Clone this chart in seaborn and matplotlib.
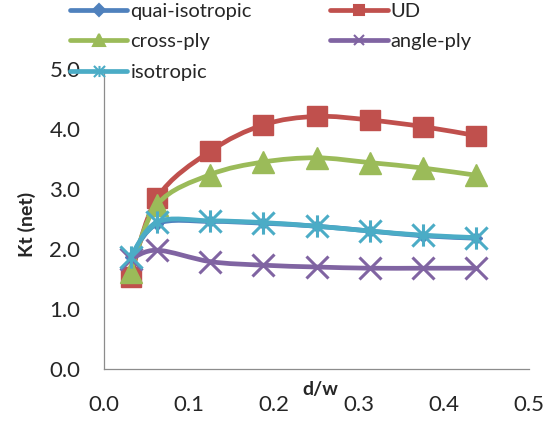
import numpy as np
import matplotlib
matplotlib.use("Agg")
import matplotlib.pyplot as plt
from matplotlib.path import Path
from matplotlib.patches import PathPatch
from matplotlib.lines import Line2D
import seaborn as sns

# d/w ratios and net stress concentration factors
d_w = [0.03125, 0.0625, 0.125, 0.1875, 0.25, 0.3125, 0.375, 0.4375]
kt_quasi = [1.86, 2.42, 2.46, 2.43, 2.38, 2.30, 2.22, 2.18]
kt_ud = [1.53, 2.85, 3.63, 4.07, 4.21, 4.15, 4.04, 3.89]
kt_cross = [1.62, 2.74, 3.24, 3.45, 3.52, 3.44, 3.35, 3.23]
kt_angle = [1.83, 1.98, 1.79, 1.73, 1.70, 1.68, 1.68, 1.68]
kt_iso = [1.86, 2.45, 2.47, 2.44, 2.38, 2.30, 2.23, 2.19]

labels = ["quai-isotropic", "UD", "cross-ply", "angle-ply", "isotropic"]
x_ticks = [0.0, 0.1, 0.2, 0.3, 0.4, 0.5]
y_ticks = [0.0, 1.0, 2.0, 3.0, 4.0, 5.0]

sns.set_theme(style="white")
plt.rcParams["font.family"] = ["Lato", "DejaVu Sans"]

colors = ["#4F81BD", "#C0504D", "#9BBB59", "#8064A2", "#4BACC6"]

# asterisk marker: an x with a vertical stroke through it
star = Path([(-1, -1), (1, 1), (-1, 1), (1, -1), (0, -1), (0, 1)],
            [Path.MOVETO, Path.LINETO, Path.MOVETO, Path.LINETO,
             Path.MOVETO, Path.LINETO])

styles = [
    dict(marker="D", ms=6, mew=1),
    dict(marker="s", ms=14, mew=1),
    dict(marker="^", ms=16, mew=1),
    dict(marker="x", ms=16, mew=2.2),
    dict(marker=star, ms=16, mew=2.2),
]
legend_ms = [6, 7, 8, 7, 8]

series = [kt_quasi, kt_ud, kt_cross, kt_angle, kt_iso]


def smooth_path(xs, ys):
    """Cubic Bezier path through the points (Catmull-Rom tangents)."""
    pts = np.column_stack([xs, ys]).astype(float)
    n = len(pts)
    verts = [pts[0]]
    codes = [Path.MOVETO]
    for i in range(n - 1):
        p0 = pts[i - 1] if i > 0 else pts[i]
        p1 = pts[i]
        p2 = pts[i + 1]
        p3 = pts[i + 2] if i + 2 < n else pts[i + 1]
        c1 = p1 + (p2 - p0) / 6.0
        c2 = p2 - (p3 - p1) / 6.0
        verts += [c1, c2, p2]
        codes += [Path.CURVE4] * 3
    return Path(verts, codes)


fig = plt.figure(figsize=(5.57, 4.21), dpi=100)
ax = fig.add_axes([104 / 557, 1 - 369 / 421, 425 / 557, 300 / 421])

handles = []
for k, (vals, col, st) in enumerate(zip(series, colors, styles)):
    z = 3 + 2 * k
    ax.add_patch(PathPatch(smooth_path(d_w, vals), fill=False, edgecolor=col,
                           lw=3.4, capstyle="round", joinstyle="round", zorder=z))
    sns.lineplot(x=d_w, y=vals, ax=ax, sort=False, linestyle="none",
                 color=col, marker=st["marker"], markersize=st["ms"],
                 markeredgewidth=st["mew"], markeredgecolor=col,
                 markerfacecolor=col, zorder=z + 1)
    handles.append(Line2D([], [], color=col, lw=3.4, marker=st["marker"],
                          ms=legend_ms[k], mew=1.5, mfc=col, mec=col))

ax.set_xlim(0, 0.5)
ax.set_ylim(0, 5.0)
ax.set_xticks(x_ticks)
ax.set_yticks(y_ticks)
ax.set_xticklabels([f"{v:.1f}" for v in x_ticks])
ax.set_yticklabels([f"{v:.1f}" for v in y_ticks])
ax.tick_params(axis="both", length=0, labelsize=16, colors="#262626")
ax.tick_params(axis="x", pad=19)
ax.tick_params(axis="y", pad=17)

for side in ["top", "right"]:
    ax.spines[side].set_visible(False)
for side in ["left", "bottom"]:
    ax.spines[side].set_color("#8C8C8C")
    ax.spines[side].set_linewidth(0.9)

ax.set_xlabel("d/w", fontsize=14, fontweight="bold", color="#262626")
ax.xaxis.set_label_coords((320 - 104) / 425, (369 - 390) / 300)
ax.xaxis.label.set_va("center")
ax.set_ylabel("Kt (net)", fontsize=14, fontweight="bold", color="#262626")
ax.yaxis.set_label_coords((27 - 104) / 425, (369 - 224) / 300)
ax.yaxis.label.set_va("center")

# two legend columns filled top to bottom: left holds entries 0, 2, 4
order = [0, 2, 4, 1, 3]
leg = fig.legend(handles=[handles[i] for i in order],
                 labels=[labels[i] for i in order], ncol=2, loc="upper left",
                 bbox_to_anchor=(70 / 557, 1 - 3 / 421), frameon=False,
                 fontsize=14.5, handlelength=2.85, handletextpad=0.15,
                 columnspacing=3.9, labelspacing=0.66, borderpad=0,
                 borderaxespad=0)
for t in leg.get_texts():
    t.set_color("#262626")

fig.savefig("out.png", dpi=100)
